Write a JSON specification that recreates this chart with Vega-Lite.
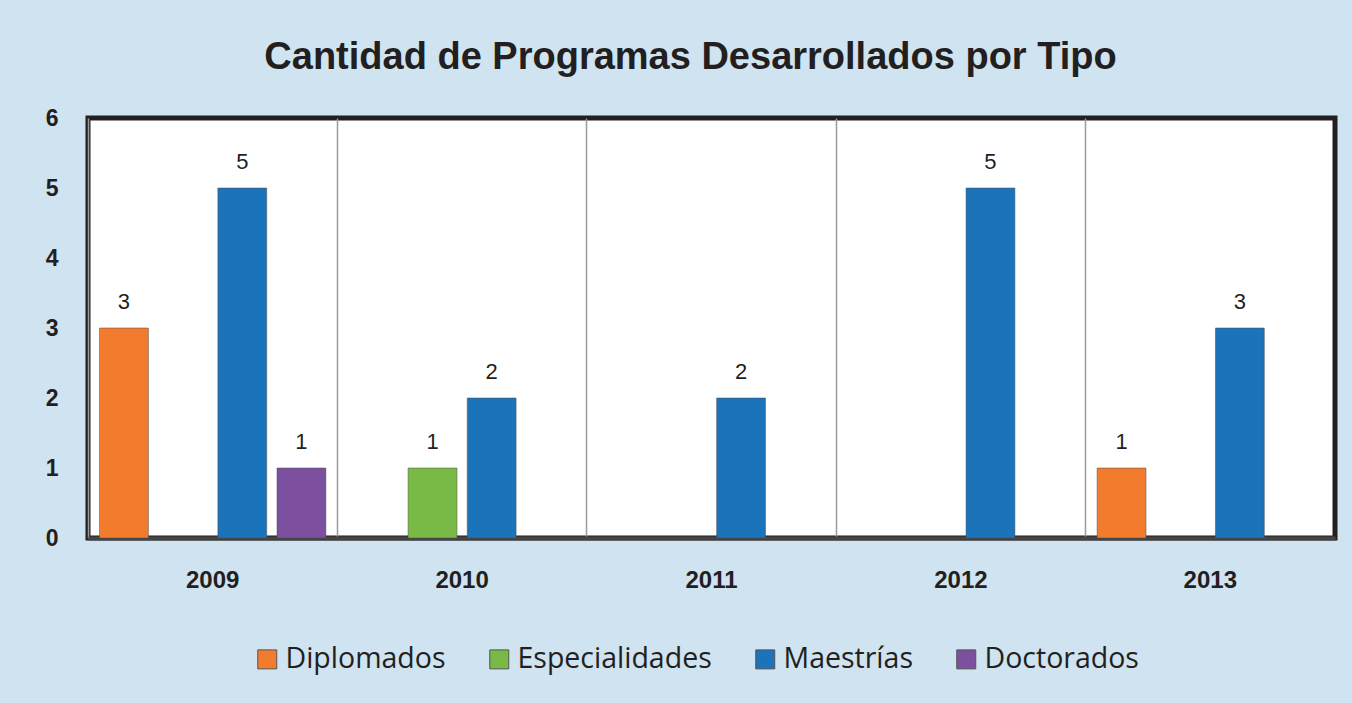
{
  "$schema": "https://vega.github.io/schema/vega-lite/v6.json",
  "autosize": {"type": "none"},
  "width": 1247,
  "height": 420,
  "padding": {"left": 88, "top": 118, "right": 17, "bottom": 165},
  "background": "#cfe3f1",
  "title": {
    "text": "Cantidad de Programas Desarrollados por Tipo",
    "font": "Liberation Sans",
    "fontSize": 38,
    "fontWeight": "bold",
    "color": "#231f20",
    "anchor": "middle",
    "dx": -21,
    "offset": 30
  },
  "config": {
    "view": {"stroke": "#231f20", "strokeWidth": 5, "fill": "white"},
    "font": "Liberation Sans"
  },
  "data": {
    "values": [
      {"anio": "2009", "tipo": "Diplomados", "valor": 3},
      {"anio": "2009", "tipo": "Maestrías", "valor": 5},
      {"anio": "2009", "tipo": "Doctorados", "valor": 1},
      {"anio": "2010", "tipo": "Especialidades", "valor": 1},
      {"anio": "2010", "tipo": "Maestrías", "valor": 2},
      {"anio": "2011", "tipo": "Maestrías", "valor": 2},
      {"anio": "2012", "tipo": "Maestrías", "valor": 5},
      {"anio": "2013", "tipo": "Diplomados", "valor": 1},
      {"anio": "2013", "tipo": "Maestrías", "valor": 3}
    ]
  },
  "encoding": {
    "x": {
      "field": "anio",
      "type": "nominal",
      "scale": {"domain": ["2009", "2010", "2011", "2012", "2013"], "paddingInner": 0, "paddingOuter": 0},
      "axis": {
        "title": null,
        "labelAngle": 0,
        "labelFont": "Liberation Sans",
        "labelFontSize": 24,
        "labelFontWeight": "bold",
        "labelColor": "#231f20",
        "labelPadding": 30,
        "ticks": false,
        "domainColor": "#444444",
        "domainWidth": 4,
        "grid": true,
        "gridColor": "#9a9a9a",
        "gridWidth": 1.5,
        "bandPosition": 0
      }
    },
    "xOffset": {
      "field": "tipo",
      "type": "nominal",
      "scale": {"domain": ["Diplomados", "Especialidades", "Maestrías", "Doctorados"], "paddingInner": 0.174, "paddingOuter": 0.195}
    },
    "y": {
      "field": "valor",
      "type": "quantitative",
      "scale": {"domain": [0, 6], "nice": false},
      "axis": {
        "title": null,
        "values": [0, 1, 2, 3, 4, 5, 6],
        "labelOverlap": false,
        "grid": false,
        "ticks": false,
        "domain": false,
        "labelFont": "Liberation Sans",
        "labelFontSize": 23,
        "labelFontWeight": "bold",
        "labelColor": "#231f20",
        "labelPadding": 30
      }
    }
  },
  "layer": [
    {
      "mark": {"type": "bar", "stroke": "#4d4d4f", "strokeWidth": 1, "strokeOpacity": 0.5},
      "encoding": {
        "color": {
          "field": "tipo",
          "type": "nominal",
          "scale": {
            "domain": ["Diplomados", "Especialidades", "Maestrías", "Doctorados"],
            "range": ["#f27b2e", "#78ba45", "#1b73ba", "#7d4f9f"]
          },
          "legend": {
            "title": null,
            "orient": "none",
            "legendX": 165,
            "legendY": 527,
            "direction": "horizontal",
            "symbolType": "square",
            "symbolSize": 361,
            "symbolStrokeColor": "#555555",
            "symbolStrokeWidth": 1,
            "labelFont": "Open Sans",
            "labelFontSize": 28.5,
            "labelLimit": 400,
            "labelColor": "#231f20",
            "labelOffset": 4,
            "columnPadding": 39,
            "symbolOffset": 0
          }
        }
      }
    },
    {
      "mark": {"type": "text", "dy": -26, "fontSize": 22, "font": "Liberation Sans", "color": "#231f20"},
      "encoding": {"text": {"field": "valor", "type": "quantitative"}}
    }
  ]
}
